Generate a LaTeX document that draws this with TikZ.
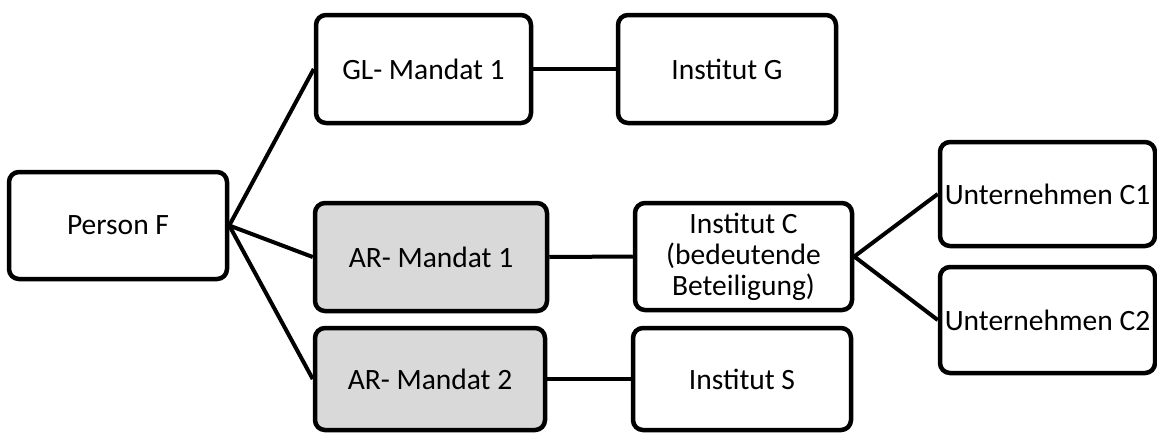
\documentclass[tikz,border=0pt]{standalone}
\usepackage{fontspec}
\setmainfont{Carlito}
\definecolor{boxgray}{HTML}{D9D9D9}
\begin{document}
\begin{tikzpicture}[x=1pt,y=-1pt,
  box/.style={draw=black, line width=4.5pt, rounded corners=10pt, fill=white,
    inner sep=0pt, align=center, font=\fontsize{29.5}{31}\selectfont},
  graybox/.style={box, fill=boxgray},
  link/.style={draw=black, line width=4pt}]
\useasboundingbox (0,0) rectangle (1157,432);
\node[box, minimum width=218pt, minimum height=107pt] (P) at (118,225.5) {Person F};
\node[box, minimum width=215pt, minimum height=108pt] (GL) at (423.5,69) {GL- Mandat 1};
\node[box, minimum width=218pt, minimum height=108pt] (G) at (727,69) {Institut G};
\node[graybox, minimum width=232pt, minimum height=108pt] (AR1) at (431,257) {AR- Mandat 1};
\node[graybox, minimum width=230pt, minimum height=102pt] (AR2) at (430,379) {AR- Mandat 2};
\node[box, minimum width=217pt, minimum height=107pt] (C) at (743.5,256.5) {Institut C\\(bedeutende\\Beteiligung)};
\node[box, minimum width=218pt, minimum height=102pt] (S) at (742,379) {Institut S};
\node[box, minimum width=215pt, minimum height=104pt] (C1) at (1047.5,194) {Unternehmen C1};
\node[box, minimum width=215pt, minimum height=106pt] (C2) at (1047.5,320) {Unternehmen C2};
\draw[link] (P.east) -- (GL.west);
\draw[link] (P.east) -- (AR1.west);
\draw[link] (P.east) -- (AR2.west);
\draw[link] (GL.east) -- (G.west);
\draw[link] (AR1.east) -- (C.west);
\draw[link] (AR2.east) -- (S.west);
\draw[link] (C.east) -- (C1.west);
\draw[link] (C.east) -- (C2.west);
\end{tikzpicture}
\end{document}
